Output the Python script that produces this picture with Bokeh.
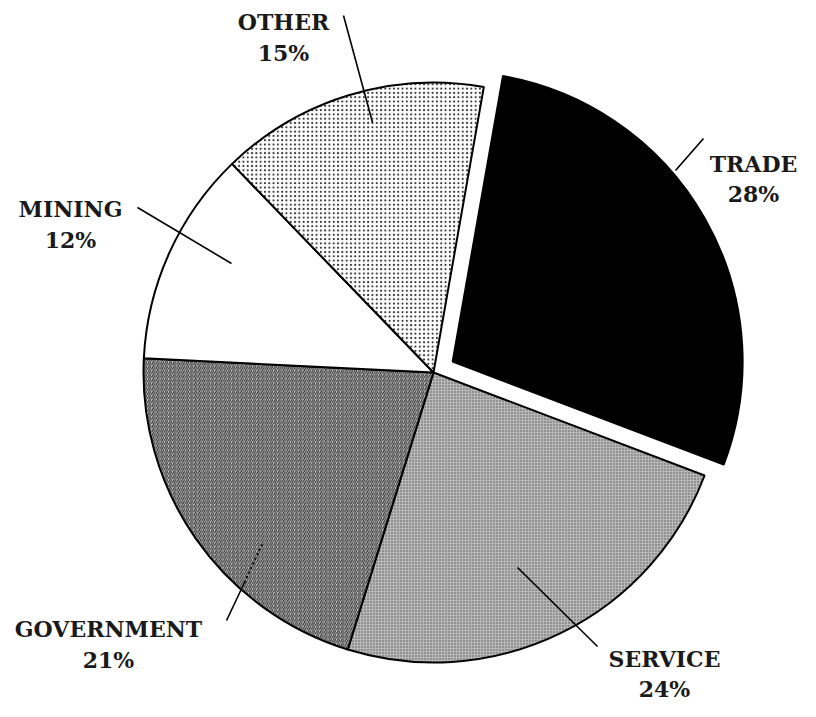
import math
from bokeh.plotting import figure
from bokeh.models import Range1d, ColumnDataSource
from bokeh.core.properties import value
from bokeh.embed import file_html
from bokeh.resources import INLINE

# ---- data ----
categories = ["TRADE", "SERVICE", "GOVERNMENT", "MINING", "OTHER"]
shares = [28, 24, 21, 12, 15]
pct_labels = ["28%", "24%", "21%", "12%", "15%"]

# ---- styles / layout ----
fills = ["#000000", "#b8b8b8", "#d0d0d0", "#ffffff", "#ffffff"]
hatches = ["blank", "dot", "right_diagonal_line", "blank", "dot"]
hatch_colors = ["#000000", "#555555", "#3a3a3a", "#000000", "#333333"]
hatch_scales = [4, 3, 4.2, 4, 4.3]
hatch_weights = [1, 0.9, 1.2, 1, 1.2]
explode = [22, 0, 0, 0, 0]
start_deg = 80.0
W, H = 800, 701
CX, CY = 433, 372          # screen px
R = 290

# label positions (screen px, centre of name line)
label_pos = [(753, 163), (664, 658), (108, 628), (70, 208), (283, 21)]
pct_gap = [30, 30, 31, 31, 31]
# leader lines (screen px): outer point, inner point
leaders = [((703, 138), (675, 170)), ((597, 646), (517, 567)),
           ((226, 620), (244, 582)), ((137, 207), (231, 263)),
           ((343, 15), (372, 122))]

def sy(y):
    return 717 - y

p = figure(width=W, height=H, output_backend="svg", toolbar_location=None,
           x_range=Range1d(0, W), y_range=Range1d(717 - H, 717),
           min_border=0, outline_line_color=None)
p.axis.visible = False
p.grid.visible = False

cum = 0.0
for i, (cat, s) in enumerate(zip(categories, shares)):
    a_hi = start_deg - cum * 3.6
    a_lo = a_hi - s * 3.6
    cum += s
    mid = math.radians((a_hi + a_lo) / 2)
    cx = CX + explode[i] * math.cos(mid)
    cy = sy(CY) + explode[i] * math.sin(mid)
    p.wedge(x=[cx], y=[cy], radius=R,
            start_angle=[math.radians(a_lo)], end_angle=[math.radians(a_hi)],
            fill_color=fills[i], line_color="black", line_width=2,
            hatch_pattern=hatches[i], hatch_color=hatch_colors[i],
            hatch_scale=hatch_scales[i], hatch_weight=hatch_weights[i])

# dotted continuation of the government leader into the slice
p.line(x=[244, 262], y=[sy(582), sy(543)], line_color="black", line_width=2,
       line_dash="2 3")

for (o, inn) in leaders:
    p.line(x=[o[0], inn[0]], y=[sy(o[1]), sy(inn[1])], line_color="black",
           line_width=1.6)

src = ColumnDataSource(dict(
    x=[lp[0] for lp in label_pos],
    y=[sy(lp[1]) for lp in label_pos],
    y2=[sy(lp[1] + g) for lp, g in zip(label_pos, pct_gap)],
    name=categories, pct=pct_labels))
common = dict(text_align="center", text_baseline="middle",
              text_font=value("DejaVu Serif"), text_font_size="22px",
              text_font_style="bold", text_color="#1a1a1a")
p.text(x="x", y="y", text="name", source=src, **common)
p.text(x="x", y="y2", text="pct", source=src, **common)

open("out.html", "w").write(file_html(p, INLINE))
